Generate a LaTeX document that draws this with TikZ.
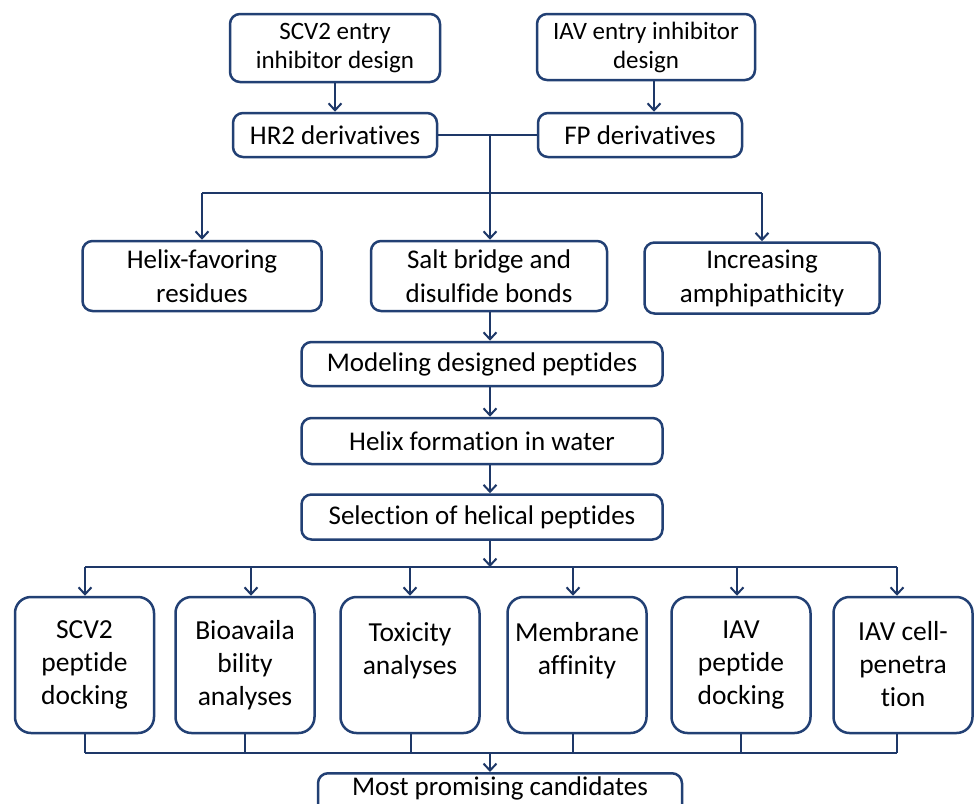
\documentclass[tikz,border=0pt]{standalone}
\usepackage{fontspec}
\setmainfont{Carlito}[Ligatures=NoCommon, RawFeature={-liga;-clig;-dlig;-calt}]
\usetikzlibrary{arrows.meta}
\definecolor{linec}{RGB}{30,56,104}
\definecolor{boxc}{RGB}{34,64,116}
\begin{document}
\begin{tikzpicture}[x=1pt,y=-1pt,
  box/.style={draw=boxc, line width=2.5pt, rounded corners=10pt, align=center, inner sep=0pt, text=black},
  topbox/.style={box, font=\fontsize{25}{29}\selectfont},
  midbox/.style={box, font=\fontsize{27}{34}\selectfont},
  tallbox/.style={box, rounded corners=16pt, minimum width=139pt, minimum height=136pt, font=\fontsize{27.5}{33}\selectfont},
  conn/.style={draw=linec, line width=2pt},
  arr/.style={conn, -{Straight Barb[length=7pt,width=13pt]}}
]
\useasboundingbox (0,0) rectangle (974,803);
\fill[white] (0,0) rectangle (974,803);

% top row
\node[topbox, minimum width=210pt, minimum height=68pt] (scv) at (335,48) {SCV2 entry\\inhibitor design};
\node[topbox, minimum width=218pt, minimum height=66pt] (iav) at (646,47) {IAV entry inhibitor\\design};
\node[midbox, minimum width=204pt, minimum height=44pt] (hr2) at (335,135) {HR2 derivatives};
\node[midbox, minimum width=204pt, minimum height=44pt] (fp) at (640,135) {FP derivatives};

% strategies
\node[midbox, minimum width=239pt, minimum height=70pt] (helix) at (202,276) {Helix-favoring\\residues};
\node[midbox, minimum width=236pt, minimum height=70pt] (salt) at (489,276) {Salt bridge and\\disulfide bonds};
\node[midbox, minimum width=235pt, minimum height=71pt] (amph) at (762,278) {Increasing\\amphipathicity};

% pipeline
\node[midbox, minimum width=361pt, minimum height=44pt] (model) at (482,364) {Modeling designed peptides};
\node[midbox, minimum width=361pt, minimum height=46pt] (hform) at (482,441) {Helix formation in water};
\node[midbox, minimum width=361pt, minimum height=45pt] (sel) at (482,517) {Selection of helical peptides};

% analyses
\node[tallbox] (b1) at (84.5,665) {SCV2\\peptide\\docking};
\node[tallbox] (b2) at (245,665) {Bioavaila\\bility\\analyses};
\node[tallbox] (b3) at (410,665) {Toxicity\\analyses\\\mbox{}};
\node[tallbox] (b4) at (577,665) {Membrane\\affinity\\\mbox{}};
\node[tallbox] (b5) at (741,665) {IAV\\peptide\\docking};
\node[tallbox] (b6) at (903,665) {\mbox{}\\[-15pt]IAV cell-\\penetra\\tion};

\node[midbox, minimum width=364pt, minimum height=60pt, anchor=north] (most) at (500,772) {Most promising candidates\\[0pt]\mbox{}};

% column coordinates
\coordinate (xa) at (490,0);
\coordinate (xi) at (654,0);
\coordinate (bar1) at (490,193);
\coordinate (bar2) at (490,567);
\coordinate (bar3) at (490,753);

% connectors top
\draw[arr] (scv.south) -- (scv.south |- hr2.north);
\draw[arr] (iav.south -| xi) -- (fp.north -| xi);
\draw[conn] (hr2.east) -- (fp.west);
\draw[conn] (hr2.east -| xa) -- (bar1);
\draw[conn] (bar1 -| helix) -- (bar1 -| amph);
\draw[arr] (bar1 -| helix) -- (helix.north);
\draw[arr] (bar1) -- (salt.north -| xa);
\draw[arr] (bar1 -| amph) -- (amph.north);
\draw[arr] (salt.south -| xa) -- (model.north -| xa);
\draw[arr] (model.south -| xa) -- (hform.north -| xa);
\draw[arr] (hform.south -| xa) -- (sel.north -| xa);
\draw[arr] (sel.south -| xa) -- (bar2);

% fan out
\coordinate (c1) at (85,0);
\coordinate (c2) at (251,0);
\coordinate (c3) at (410,0);
\coordinate (c4) at (573,0);
\coordinate (c5) at (737,0);
\coordinate (c6) at (897,0);
\draw[conn] (bar2 -| c1) -- (bar2 -| c6);
\foreach \c/\b in {c1/b1,c2/b2,c3/b3,c4/b4,c5/b5,c6/b6} {
  \draw[arr] (bar2 -| \c) -- (\b.north -| \c);
}
% fan in
\coordinate (d1) at (85,0);
\coordinate (d2) at (245,0);
\coordinate (d3) at (411,0);
\coordinate (d4) at (573,0);
\coordinate (d5) at (741,0);
\coordinate (d6) at (897,0);
\foreach \c/\b in {d1/b1,d2/b2,d3/b3,d4/b4,d5/b5,d6/b6} {
  \draw[conn] (\b.south -| \c) -- (bar3 -| \c);
}
\draw[conn] (bar3 -| d1) -- (bar3 -| d6);
\draw[arr] (bar3) -- (most.north -| xa);
\end{tikzpicture}
\end{document}
